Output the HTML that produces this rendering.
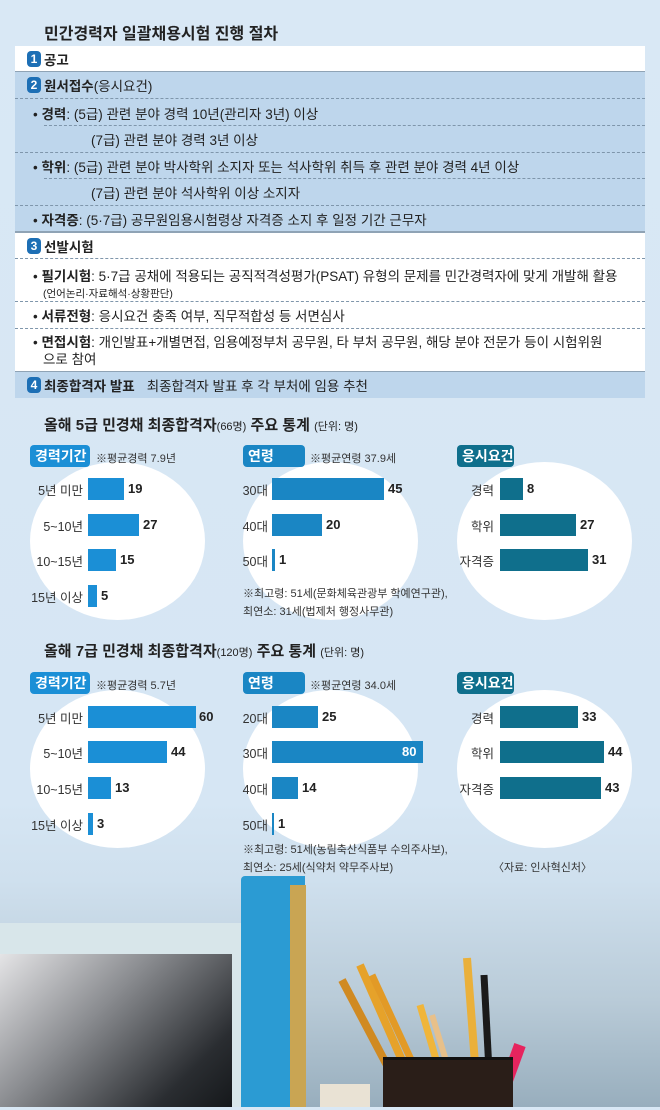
<!DOCTYPE html>
<html><head><meta charset="utf-8"><style>
*{margin:0;padding:0;box-sizing:border-box}
body{width:660px;height:1107px;position:relative;overflow:hidden;font-family:"Liberation Sans","Noto Sans CJK KR",sans-serif;color:#222;background:linear-gradient(#d9e8f5,#d6e6f4 800px,#cfe0ee 880px,#b9cbd8 1000px,#98aebd 1107px)}
.a{position:absolute;white-space:nowrap}
.row{position:absolute;left:15px;width:630px;font-size:13.5px;padding-left:12px;display:flex;align-items:center;white-space:nowrap}
.w{background:#fff}.b{background:#bed6ec}
.dl{border-bottom:1px dashed #7f96ab}
.num{display:inline-block;width:14px;height:16px;background:#1d6fb5;color:#fff;border-radius:4px;font-size:12px;font-weight:bold;text-align:center;line-height:16px;margin-right:3px}
.bo{font-weight:bold}
.pill{position:absolute;height:22px;border-radius:4px;color:#fff;font-weight:bold;font-size:14px;padding-left:5px;line-height:22px}
.el{position:absolute;background:#fff;border-radius:50%}
.lb{position:absolute;font-size:12.5px;text-align:right;color:#333}
.bar{position:absolute;height:22px}
.v{position:absolute;font-size:13px;font-weight:bold;color:#222}
.note{position:absolute;font-size:11px;color:#333}
</style></head><body>
<div class="a bo" style="left:44px;top:20px;font-size:16px">민간경력자 일괄채용시험 진행 절차</div>
<div class="row w" style="top:46px;height:26px;border-bottom:1px solid #8fa3b5"><span class="num">1</span><span class="bo">공고</span></div>
<div class="row b dl" style="top:72px;height:27px"><span class="num">2</span><span class="bo">원서접수</span>(응시요건)</div>
<div class="row b" style="top:99px;height:27px"><span style="margin-left:6px">• <b>경력</b>: (5급) 관련 분야 경력 10년(관리자 3년) 이상</span></div>
<div class="a" style="left:44px;top:125px;width:601px;border-top:1px dashed #7f96ab"></div>
<div class="row b dl" style="top:126px;height:27px"><span style="margin-left:64px">(7급) 관련 분야 경력 3년 이상</span></div>
<div class="row b" style="top:153px;height:26px"><span style="margin-left:6px">• <b>학위</b>: (5급) 관련 분야 박사학위 소지자 또는 석사학위 취득 후 관련 분야 경력 4년 이상</span></div>
<div class="a" style="left:44px;top:178px;width:601px;border-top:1px dashed #7f96ab"></div>
<div class="row b dl" style="top:179px;height:27px"><span style="margin-left:64px">(7급) 관련 분야 석사학위 이상 소지자</span></div>
<div class="row b" style="top:206px;height:27px;border-bottom:2px solid #8fa3b5"><span style="margin-left:6px">• <b>자격증</b>: (5·7급) 공무원임용시험령상 자격증 소지 후 일정 기간 근무자</span></div>
<div class="row w dl" style="top:233px;height:26px"><span class="num">3</span><span class="bo">선발시험</span></div>
<div class="row w dl" style="top:259px;height:43px;display:block;padding-top:6px"><span style="margin-left:6px">• <b>필기시험</b>: 5·7급 공채에 적용되는 공직적격성평가(PSAT) 유형의 문제를 민간경력자에 맞게 개발해 활용</span><br><span style="margin-left:16px;font-size:10.5px">(언어논리·자료해석·상황판단)</span></div>
<div class="row w dl" style="top:302px;height:27px"><span style="margin-left:6px">• <b>서류전형</b>: 응시요건 충족 여부, 직무적합성 등 서면심사</span></div>
<div class="row w" style="top:329px;height:43px;display:block;padding-top:5px;line-height:17px;border-bottom:1px solid #8fa3b5"><span style="margin-left:6px">• <b>면접시험</b>: 개인발표+개별면접, 임용예정부처 공무원, 타 부처 공무원, 해당 분야 전문가 등이 시험위원</span><br><span style="margin-left:16px">으로 참여</span></div>
<div class="row b" style="top:372px;height:26px"><span class="num">4</span><span class="bo">최종합격자 발표</span><span style="margin-left:12px">최종합격자 발표 후 각 부처에 임용 추천</span></div>

<div class="a" style="left:44px;top:414px;font-size:15px"><b>올해 5급 민경채 최종합격자</b><span style="font-size:11px">(66명)</span> <b>주요 통계</b> <span style="font-size:11px">(단위: 명)</span></div>
<div class="el" style="left:30px;top:462px;width:175px;height:158px"></div>
<div class="el" style="left:243px;top:462px;width:175px;height:158px"></div>
<div class="el" style="left:457px;top:462px;width:175px;height:158px"></div>
<div class="pill" style="left:30px;top:445px;width:60px;background:#1b8fd6">경력기간</div>
<div class="note" style="left:96px;top:450px">※평균경력 7.9년</div>
<div class="pill" style="left:243px;top:445px;width:62px;background:#1a86c4">연령</div>
<div class="note" style="left:310px;top:450px">※평균연령 37.9세</div>
<div class="pill" style="left:457px;top:445px;width:57px;background:#0f6f8c">응시요건</div>

<div class="lb" style="left:20px;width:63px;top:480px">5년 미만</div><div class="bar" style="left:88px;top:478px;width:36px;background:#1b8fd6"></div><div class="v" style="left:128px;top:481px">19</div>
<div class="lb" style="left:20px;width:63px;top:516px">5~10년</div><div class="bar" style="left:88px;top:514px;width:51px;background:#1b8fd6"></div><div class="v" style="left:143px;top:517px">27</div>
<div class="lb" style="left:20px;width:63px;top:551px">10~15년</div><div class="bar" style="left:88px;top:549px;width:28px;background:#1b8fd6"></div><div class="v" style="left:120px;top:552px">15</div>
<div class="lb" style="left:20px;width:63px;top:587px">15년 이상</div><div class="bar" style="left:88px;top:585px;width:9px;background:#1b8fd6"></div><div class="v" style="left:101px;top:588px">5</div>

<div class="lb" style="left:240px;width:28px;top:480px">30대</div><div class="bar" style="left:272px;top:478px;width:112px;background:#1a86c4"></div><div class="v" style="left:388px;top:481px">45</div>
<div class="lb" style="left:240px;width:28px;top:516px">40대</div><div class="bar" style="left:272px;top:514px;width:50px;background:#1a86c4"></div><div class="v" style="left:326px;top:517px">20</div>
<div class="lb" style="left:240px;width:28px;top:551px">50대</div><div class="bar" style="left:272px;top:549px;width:3px;background:#1a86c4"></div><div class="v" style="left:279px;top:552px">1</div>
<div class="note" style="left:243px;top:585px">※최고령: 51세(문화체육관광부 학예연구관),</div>
<div class="note" style="left:243px;top:603px">최연소: 31세(법제처 행정사무관)</div>

<div class="lb" style="left:440px;width:54px;top:480px">경력</div><div class="bar" style="left:500px;top:478px;width:23px;background:#0f6f8c"></div><div class="v" style="left:527px;top:481px">8</div>
<div class="lb" style="left:440px;width:54px;top:516px">학위</div><div class="bar" style="left:500px;top:514px;width:76px;background:#0f6f8c"></div><div class="v" style="left:580px;top:517px">27</div>
<div class="lb" style="left:440px;width:54px;top:551px">자격증</div><div class="bar" style="left:500px;top:549px;width:88px;background:#0f6f8c"></div><div class="v" style="left:592px;top:552px">31</div>

<div class="a" style="left:44px;top:640px;font-size:15px"><b>올해 7급 민경채 최종합격자</b><span style="font-size:11px">(120명)</span> <b>주요 통계</b> <span style="font-size:11px">(단위: 명)</span></div>
<div class="el" style="left:30px;top:690px;width:175px;height:158px"></div>
<div class="el" style="left:243px;top:690px;width:175px;height:158px"></div>
<div class="el" style="left:457px;top:690px;width:175px;height:158px"></div>
<div class="pill" style="left:30px;top:672px;width:60px;background:#1b8fd6">경력기간</div>
<div class="note" style="left:96px;top:677px">※평균경력 5.7년</div>
<div class="pill" style="left:243px;top:672px;width:62px;background:#1a86c4">연령</div>
<div class="note" style="left:310px;top:677px">※평균연령 34.0세</div>
<div class="pill" style="left:457px;top:672px;width:57px;background:#0f6f8c">응시요건</div>

<div class="lb" style="left:20px;width:63px;top:708px">5년 미만</div><div class="bar" style="left:88px;top:706px;width:108px;background:#1b8fd6"></div><div class="v" style="left:199px;top:709px">60</div>
<div class="lb" style="left:20px;width:63px;top:743px">5~10년</div><div class="bar" style="left:88px;top:741px;width:79px;background:#1b8fd6"></div><div class="v" style="left:171px;top:744px">44</div>
<div class="lb" style="left:20px;width:63px;top:779px">10~15년</div><div class="bar" style="left:88px;top:777px;width:23px;background:#1b8fd6"></div><div class="v" style="left:115px;top:780px">13</div>
<div class="lb" style="left:20px;width:63px;top:815px">15년 이상</div><div class="bar" style="left:88px;top:813px;width:5px;background:#1b8fd6"></div><div class="v" style="left:97px;top:816px">3</div>

<div class="lb" style="left:240px;width:28px;top:708px">20대</div><div class="bar" style="left:272px;top:706px;width:46px;background:#1a86c4"></div><div class="v" style="left:322px;top:709px">25</div>
<div class="lb" style="left:240px;width:28px;top:743px">30대</div><div class="bar" style="left:272px;top:741px;width:151px;background:#1a86c4"></div><div class="v" style="left:402px;top:744px;color:#fff">80</div>
<div class="lb" style="left:240px;width:28px;top:779px">40대</div><div class="bar" style="left:272px;top:777px;width:26px;background:#1a86c4"></div><div class="v" style="left:302px;top:780px">14</div>
<div class="lb" style="left:240px;width:28px;top:815px">50대</div><div class="bar" style="left:272px;top:813px;width:2px;background:#1a86c4"></div><div class="v" style="left:278px;top:816px">1</div>
<div class="note" style="left:243px;top:841px">※최고령: 51세(농림축산식품부 수의주사보),</div>
<div class="note" style="left:243px;top:859px">최연소: 25세(식약처 약무주사보)</div>
<div class="note" style="left:493px;top:859px">〈자료: 인사혁신처〉</div>

<div class="lb" style="left:440px;width:54px;top:708px">경력</div><div class="bar" style="left:500px;top:706px;width:78px;background:#0f6f8c"></div><div class="v" style="left:582px;top:709px">33</div>
<div class="lb" style="left:440px;width:54px;top:743px">학위</div><div class="bar" style="left:500px;top:741px;width:104px;background:#0f6f8c"></div><div class="v" style="left:608px;top:744px">44</div>
<div class="lb" style="left:440px;width:54px;top:779px">자격증</div><div class="bar" style="left:500px;top:777px;width:101px;background:#0f6f8c"></div><div class="v" style="left:605px;top:780px">43</div>

<div class="a" style="left:0;top:923px;width:266px;height:184px;background:#d8e6ea;border-radius:0 8px 0 0"></div>
<div class="a" style="left:0;top:954px;width:232px;height:153px;background:linear-gradient(135deg,#e4e4e6,#8a8c90 40%,#2a2d31 80%,#15181b)"></div>
<div class="a" style="left:241px;top:876px;width:64px;height:231px;background:#2b9bd3;border-radius:4px 0 0 0"></div>
<div class="a" style="left:290px;top:885px;width:16px;height:222px;background:#c9a553"></div>
<div class="a" style="left:320px;top:1084px;width:50px;height:23px;background:#e9e2d4"></div>
<svg class="a" style="left:330px;top:930px" width="230" height="180">
<g stroke-linecap="butt">
<line x1="12" y1="50" x2="70" y2="160" stroke="#d08a22" stroke-width="8"/>
<line x1="30" y1="35" x2="85" y2="160" stroke="#e6a22a" stroke-width="8"/>
<line x1="42" y1="45" x2="95" y2="160" stroke="#e29a26" stroke-width="7"/>
<line x1="90" y1="75" x2="115" y2="160" stroke="#f0b53a" stroke-width="7"/>
<line x1="102" y1="85" x2="125" y2="160" stroke="#e8c08a" stroke-width="6"/>
<line x1="137" y1="28" x2="147" y2="160" stroke="#eab03a" stroke-width="8"/>
<line x1="154" y1="45" x2="160" y2="160" stroke="#1a1a1a" stroke-width="7"/>
<line x1="190" y1="115" x2="170" y2="170" stroke="#e6245e" stroke-width="12"/>
</g></svg>
<div class="a" style="left:383px;top:1057px;width:130px;height:50px;background:#2a1e18;border-top:3px solid #111"></div>
</body></html>
